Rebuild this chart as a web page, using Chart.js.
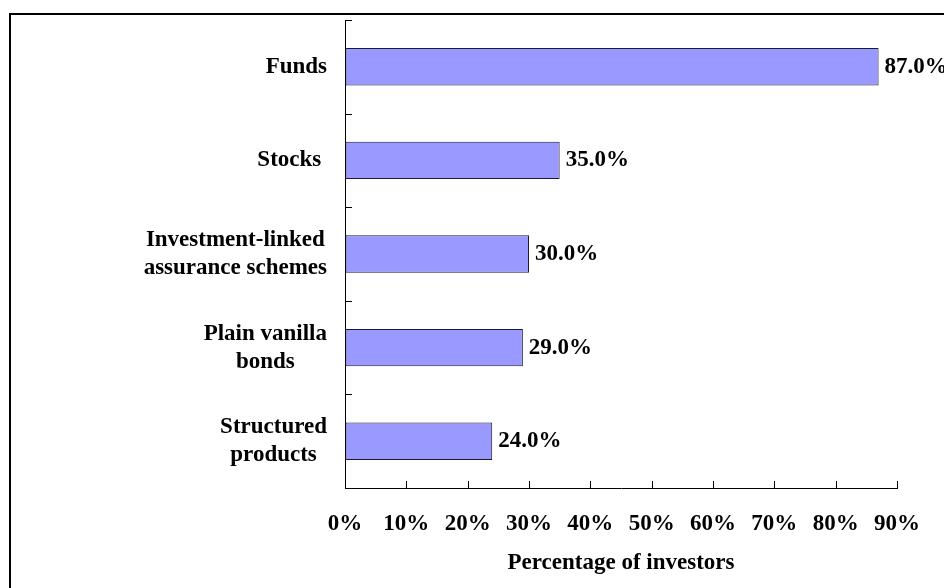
<!DOCTYPE html>
<html>
<head>
<meta charset="utf-8">
<script src="https://cdn.jsdelivr.net/npm/chart.js@4.4.1/dist/chart.umd.min.js"></script>
<style>
  html, body { margin: 0; padding: 0; background: #ffffff; }
  #wrap { width: 944px; height: 588px; }
</style>
</head>
<body>
<div id="wrap"><canvas id="chart" width="944" height="588"></canvas></div>
<script>
// data
const categories = [
    ['Funds'],
    ['Stocks '],
    ['Investment-linked', 'assurance schemes'],
    ['Plain vanilla', 'bonds'],
    ['Structured', 'products']
];
const investorShare = [87.0, 35.0, 30.0, 29.0, 24.0];
const xTicks = [0, 10, 20, 30, 40, 50, 60, 70, 80, 90];
const axisTitle = 'Percentage of investors';

const FONT = 'bold 23px "Liberation Serif", "Times New Roman", serif';

// outer frame (top + left edges visible in the crop)
const framePlugin = {
    id: 'frame',
    afterDraw(chart) {
        const ctx = chart.ctx;
        ctx.save();
        ctx.fillStyle = '#000';
        ctx.fillRect(9, 13, chart.width, 2);
        ctx.fillRect(9, 13, 2, chart.height);
        ctx.restore();
    }
};

// inward tick marks on both axes
const tickMarks = {
    id: 'tickMarks',
    afterDatasetsDraw(chart) {
        const { ctx, scales: { x, y } } = chart;
        ctx.save();
        ctx.strokeStyle = '#000';
        ctx.lineWidth = 1;
        ctx.beginPath();
        xTicks.forEach(v => {
            const px = Math.round(x.getPixelForValue(v)) + 0.5;
            ctx.moveTo(px, y.bottom);
            ctx.lineTo(px, y.bottom - 7);
        });
        const band = (y.bottom - y.top) / categories.length;
        categories.forEach((c, i) => {
            const py = Math.round(y.getPixelForValue(i) - band / 2) + 0.5;
            ctx.moveTo(x.left, py);
            ctx.lineTo(x.left + 7, py);
        });
        ctx.stroke();
        ctx.restore();
    }
};

// category labels: block right-aligned near the axis, lines centred in the block
const categoryLabels = {
    id: 'categoryLabels',
    afterDraw(chart) {
        const { ctx, scales: { x, y } } = chart;
        ctx.save();
        ctx.font = FONT;
        ctx.fillStyle = '#000';
        ctx.textAlign = 'center';
        ctx.textBaseline = 'middle';
        const lineH = 28;
        const right = x.left - 18;
        categories.forEach((lines, i) => {
            const w = Math.max(...lines.map(l => ctx.measureText(l).width));
            const cx = right - w / 2;
            const cy = y.getPixelForValue(i);
            const y0 = cy - (lines.length - 1) * lineH / 2;
            lines.forEach((l, k) => ctx.fillText(l, cx, y0 + k * lineH));
        });
        ctx.restore();
    }
};

// value labels at the end of each bar
const valueLabels = {
    id: 'valueLabels',
    afterDatasetsDraw(chart) {
        const ctx = chart.ctx;
        const meta = chart.getDatasetMeta(0);
        ctx.save();
        ctx.font = FONT;
        ctx.fillStyle = '#000';
        ctx.textAlign = 'left';
        ctx.textBaseline = 'middle';
        meta.data.forEach((bar, i) => {
            ctx.fillText(investorShare[i].toFixed(1) + '%', bar.x + 6, bar.y);
        });
        ctx.restore();
    }
};

new Chart(document.getElementById('chart'), {
    type: 'bar',
    data: {
        labels: categories,
        datasets: [{
            data: investorShare,
            backgroundColor: '#9999FF',
            borderColor: '#1a1a33',
            borderWidth: 1,
            borderSkipped: false,
            barPercentage: 0.4,
            categoryPercentage: 1.0
        }]
    },
    options: {
        indexAxis: 'y',
        responsive: false,
        animation: false,
        events: [],
        layout: { padding: { top: 20, right: 47, bottom: 0, left: 0 } },
        plugins: {
            legend: { display: false },
            tooltip: { enabled: false }
        },
        scales: {
            x: {
                min: 0,
                max: 90,
                afterFit(scale) { scale.height = 100; },
                afterBuildTicks(scale) { scale.ticks = xTicks.map(v => ({ value: v })); },
                grid: { drawOnChartArea: false, drawTicks: false },
                border: { display: true, color: '#000', width: 1 },
                ticks: {
                    padding: 22,
                    maxRotation: 0,
                    autoSkip: false,
                    color: '#000',
                    font: { family: '"Liberation Serif", "Times New Roman", serif', size: 23, weight: 'bold' },
                    callback: v => v + '%'
                },
                title: {
                    display: true,
                    text: axisTitle,
                    color: '#000',
                    padding: { top: 0, bottom: 11 },
                    font: { family: '"Liberation Serif", "Times New Roman", serif', size: 23, weight: 'bold' }
                }
            },
            y: {
                afterFit(scale) { scale.width = 345; },
                grid: { drawOnChartArea: false, drawTicks: false },
                border: { display: true, color: '#000', width: 1 },
                ticks: { display: false }
            }
        }
    },
    plugins: [tickMarks, valueLabels, categoryLabels, framePlugin]
});
</script>
</body>
</html>
